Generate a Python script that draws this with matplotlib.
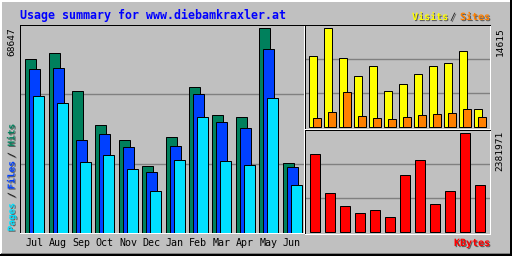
import matplotlib
matplotlib.use('Agg')
import matplotlib.pyplot as plt
import matplotlib.patheffects as pe
import numpy as np

months = ['Jul', 'Aug', 'Sep', 'Oct', 'Nov', 'Dec', 'Jan', 'Feb', 'Mar', 'Apr', 'May', 'Jun']
hits = [58200, 60220, 47750, 36300, 31240, 22480, 32250, 49100, 39660, 38990, 68647, 23490]
files = [55170, 55500, 31240, 33260, 28880, 20460, 29220, 46740, 37310, 35280, 61570, 22140]
pages = [46070, 43710, 23830, 26180, 21470, 14050, 24500, 38990, 24160, 22810, 45390, 16070]
visits = [10437, 14615, 10140, 7604, 9095, 5368, 6411, 7902, 9095, 9542, 11183, 2684]
sites = [1342, 2236, 5219, 1640, 1342, 1193, 1491, 1789, 1938, 2087, 2684, 1491]
kbytes = [1871549, 947927, 631951, 461810, 534728, 364587, 1385454, 1725737,
          680563, 996542, 2381971, 1142391]

W, H = 512, 256
BG = '#c0c0c0'
GRID = '#808080'
C_HITS = '#00805c'
C_FILES = '#0040ff'
C_PAGES = '#00e0ff'
C_VISITS = '#ffff00'
C_SITES = '#ff8000'
C_KB = '#ff0000'
LW = 0.72  # one pixel at 100 dpi

fig = plt.figure(figsize=(W / 100, H / 100), dpi=100)
fig.patch.set_facecolor(BG)


def px_axes(x0, y0, x1, y1):
  return fig.add_axes([x0 / W, 1 - y1 / H, (x1 - x0) / W, (y1 - y0) / H])


def style(ax):
  ax.set_facecolor(BG)
  ax.set_xticks([])
  ax.set_yticks([])
  for s in ['top', 'left']:
    ax.spines[s].set_color('black')
    ax.spines[s].set_linewidth(LW)
  for s in ['bottom', 'right']:
    ax.spines[s].set_color('white')
    ax.spines[s].set_linewidth(LW)


def grid3(ax, top):
  for f in (1 / 3, 2 / 3):
    ax.axhline(top * f, color=GRID, lw=1.0, zorder=0)


x = np.arange(len(months))
shadow = [pe.withSimplePatchShadow(offset=(0.8, -0.8), shadow_rgbFace='#606060', alpha=1.0)]
mono = 'DejaVu Sans Mono'


def ptext(px, py, s, **kw):
  kw.setdefault('family', mono)
  kw.setdefault('fontsize', 7.2)
  return fig.text(px / W, 1 - py / H, s, **kw)


# main panel: hits / files / pages
ax1 = px_axes(20, 25, 304, 233)
style(ax1)
top1 = max(hits) * 207 / 203.7
grid3(ax1, top1)
bw = 0.47
ax1.bar(x, hits, width=bw, align='edge', color=C_HITS, edgecolor='black', lw=LW, zorder=2)
ax1.bar(x + 0.171, files, width=bw, align='edge', color=C_FILES, edgecolor='black', lw=LW, zorder=3)
ax1.bar(x + 0.342, pages, width=bw, align='edge', color=C_PAGES, edgecolor='black', lw=LW, zorder=4)
ax1.set_xlim(-0.227, 11.913)
ax1.set_ylim(0, top1)

# visits / sites
ax2 = px_axes(305, 25, 490, 129)
style(ax2)
top2 = max(visits) * 101 / 98
grid3(ax2, top2)
ax2.bar(x, visits, width=0.49, align='edge', color=C_VISITS, edgecolor='black', lw=LW, zorder=2)
ax2.bar(x + 0.267, sites, width=0.49, align='edge', color=C_SITES, edgecolor='black', lw=LW, zorder=3)
ax2.set_xlim(-0.287, 12.047)
ax2.set_ylim(-top2 * 1.5 / 101, top2)

# kbytes
ax3 = px_axes(305, 130, 490, 234)
style(ax3)
top3 = max(kbytes) * 101 / 98
grid3(ax3, top3)
ax3.bar(x, kbytes, width=0.62, align='edge', color=C_KB, edgecolor='black', lw=LW, zorder=2)
ax3.set_xlim(-0.353, 11.98)
ax3.set_ylim(-top3 * 1.5 / 101, top3)

# texts
ptext(20, 15, 'Usage summary for www.diebamkraxler.at', color='#0000ff',
      fontsize=8.4, fontweight='bold', va='center', ha='left')
ptext(448, 17, 'Visits', color=C_VISITS, ha='right', va='center',
      fontweight='bold', path_effects=shadow)
ptext(453, 17, '/', color='#202020', ha='center', va='center', path_effects=shadow)
ptext(490, 17, 'Sites', color=C_SITES, ha='right', va='center',
      fontweight='bold', path_effects=shadow)
ptext(490, 243, 'KBytes', color=C_KB, ha='right', va='center',
      fontweight='bold', path_effects=shadow)

for i, m in enumerate(months):
  ptext(20 + (0.227 + i + 0.406) * 23.36, 243, m, ha='center', va='center', color='black')

ptext(12, 27, str(max(hits)), rotation=90, ha='center', va='top', fontsize=6.8)
ptext(500, 27, str(max(visits)), rotation=90, ha='center', va='top', fontsize=6.8)
ptext(500, 131, str(max(kbytes)), rotation=90, ha='center', va='top', fontsize=6.8)

for s, yc, c in [('Pages', 217, C_PAGES), ('/', 195, '#202020'), ('Files', 175, C_FILES),
                 ('/', 155, '#202020'), ('Hits', 135, C_HITS)]:
  ptext(12, yc, s, rotation=90, ha='center', va='center', color=c,
        fontsize=6.8, fontweight='bold', path_effects=shadow)

# outer raised frame
def fline(xs, ys, c, lw=LW):
  fig.add_artist(plt.Line2D([v / W for v in xs], [1 - v / H for v in ys],
                            color=c, lw=lw, transform=fig.transFigure))

fline([0.5, 0.5], [0, 256], 'white', 1.44)
fline([0, 512], [0.5, 0.5], 'white', 1.44)
fline([509.5, 509.5], [1, 254], GRID)
fline([1, 510], [252.5, 252.5], GRID)
fline([511, 511], [0, 256], 'black', 1.44)
fline([0, 512], [255, 255], 'black', 1.44)

fig.savefig('out.png', dpi=100, facecolor=BG)
